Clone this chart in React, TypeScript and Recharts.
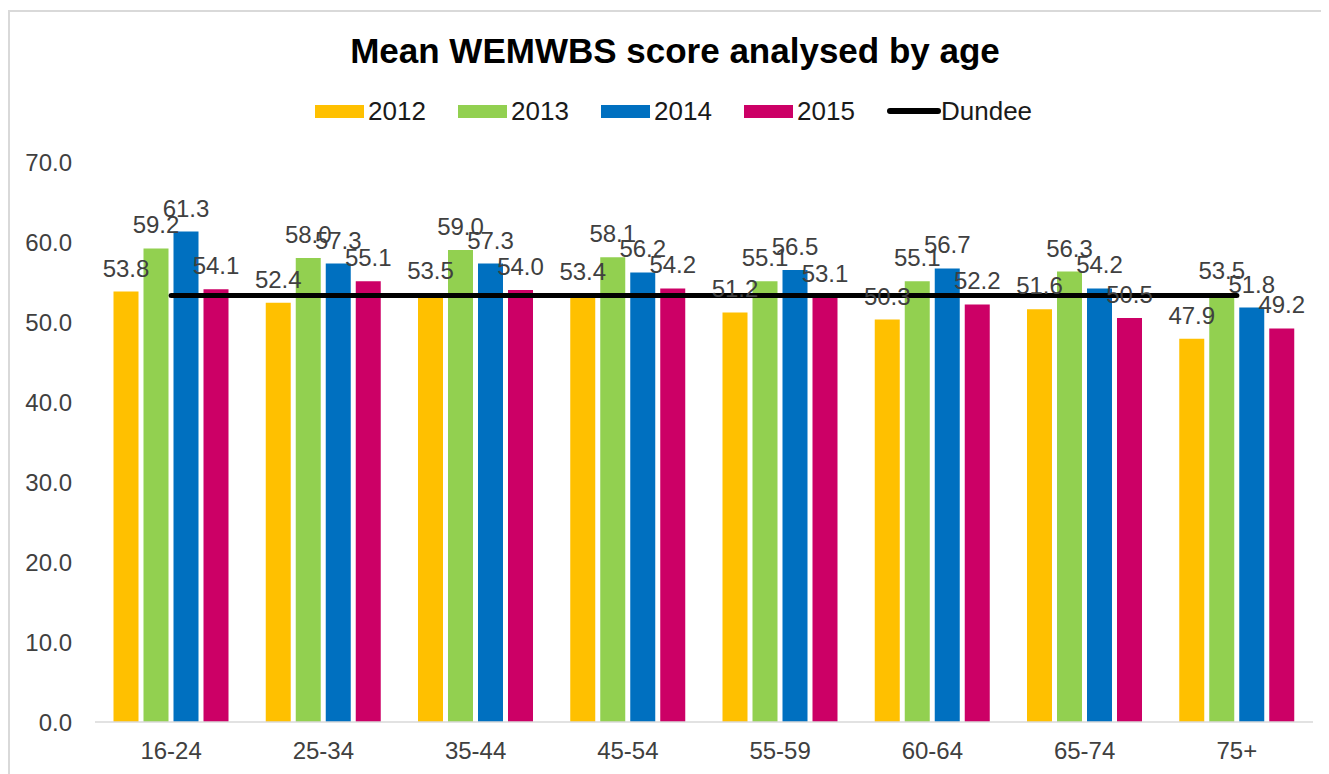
import React from 'react';
import { ComposedChart, Bar, Line, XAxis, YAxis, Legend, LabelList } from 'recharts';

const categories = ['16-24', '25-34', '35-44', '45-54', '55-59', '60-64', '65-74', '75+'];
const values2012 = [53.8, 52.4, 53.5, 53.4, 51.2, 50.3, 51.6, 47.9];
const values2013 = [59.2, 58.0, 59.0, 58.1, 55.1, 55.1, 56.3, 53.5];
const values2014 = [61.3, 57.3, 57.3, 56.2, 56.5, 56.7, 54.2, 51.8];
const values2015 = [54.1, 55.1, 54.0, 54.2, 53.1, 52.2, 50.5, 49.2];
const dundeeValues = [53.3, 53.3, 53.3, 53.3, 53.3, 53.3, 53.3, 53.3];
const yTicks = [0, 10, 20, 30, 40, 50, 60, 70];

const seriesNames = ['2012', '2013', '2014', '2015'];
const seriesColors = ['#FFC000', '#92D050', '#0070C0', '#CC0066'];

const data = categories.map((c, i) => ({
  category: c,
  y2012: values2012[i],
  y2013: values2013[i],
  y2014: values2014[i],
  y2015: values2015[i],
  dundee: dundeeValues[i],
}));

const FONT = '"Liberation Sans", Arial, sans-serif';
const labelStyle = { fontSize: 24, fill: '#404040', fontFamily: FONT };

const LegendContent = () => (
  <div style={{ display: 'flex', alignItems: 'center', height: 30, fontFamily: FONT, fontSize: 26, color: '#1a1a1a' }}>
    {seriesNames.map((n, i) => (
      <div key={n} style={{ display: 'flex', alignItems: 'center', width: 143 }}>
        <div style={{ width: 49, height: 13, background: seriesColors[i] }} />
        <span style={{ marginLeft: 4 }}>{n}</span>
      </div>
    ))}
    <div style={{ display: 'flex', alignItems: 'center' }}>
      <div style={{ width: 54, height: 6, background: '#000', borderRadius: 3 }} />
      <span style={{ marginLeft: 0 }}>Dundee</span>
    </div>
  </div>
);

export default function App() {
  return (
    <div style={{ position: 'relative', width: 1321, height: 766, overflow: 'hidden', fontFamily: FONT, background: '#fff' }}>
      <div
        style={{
          position: 'absolute',
          left: 0,
          top: 2,
          width: 1400,
          height: 800,
          borderTop: '2px solid #D9D9D9',
          borderLeft: '2px solid #D9D9D9',
        }}
      />
      <div
        style={{
          position: 'absolute',
          left: 0,
          top: 23,
          width: 1334,
          textAlign: 'center',
          fontSize: 35,
          lineHeight: '40px',
          fontWeight: 'bold',
          color: '#000',
        }}
      >
        Mean WEMWBS score analysed by age
      </div>
      <div style={{ position: 'absolute', left: 0, top: 0 }}>
        <ComposedChart
          width={1321}
          height={766}
          data={data}
          margin={{ top: 124, right: 16, bottom: 12, left: 0 }}
          barCategoryGap={18.5}
          barGap={5}
        >
          <Legend
            verticalAlign="top"
            align="left"
            content={<LegendContent />}
            wrapperStyle={{ top: 88, left: 307, width: 800, height: 30 }}
          />
          <XAxis
            dataKey="category"
            height={40}
            tickLine={false}
            tickSize={0}
            tickMargin={20}
            axisLine={{ stroke: '#D9D9D9', strokeWidth: 1.5 }}
            tick={{ fontSize: 24, fill: '#404040', fontFamily: FONT }}
          />
          <YAxis
            width={87}
            domain={[0, 70]}
            ticks={yTicks}
            tickFormatter={(v: number) => v.toFixed(1)}
            axisLine={false}
            tickLine={false}
            tickSize={0}
            tickMargin={23}
            tick={{ fontSize: 24, fill: '#404040', fontFamily: FONT }}
          />
          <Bar dataKey="y2012" name="2012" fill={seriesColors[0]} isAnimationActive={false}>
            <LabelList dataKey="y2012" position="top" offset={15} formatter={(v: number) => v.toFixed(1)} style={labelStyle} />
          </Bar>
          <Bar dataKey="y2013" name="2013" fill={seriesColors[1]} isAnimationActive={false}>
            <LabelList dataKey="y2013" position="top" offset={15} formatter={(v: number) => v.toFixed(1)} style={labelStyle} />
          </Bar>
          <Bar dataKey="y2014" name="2014" fill={seriesColors[2]} isAnimationActive={false}>
            <LabelList dataKey="y2014" position="top" offset={15} formatter={(v: number) => v.toFixed(1)} style={labelStyle} />
          </Bar>
          <Bar dataKey="y2015" name="2015" fill={seriesColors[3]} isAnimationActive={false}>
            <LabelList dataKey="y2015" position="top" offset={15} formatter={(v: number) => v.toFixed(1)} style={labelStyle} />
          </Bar>
          <Line
            dataKey="dundee"
            name="Dundee"
            stroke="#000"
            strokeWidth={5}
            strokeLinecap="round"
            dot={false}
            activeDot={false}
            isAnimationActive={false}
          />
        </ComposedChart>
      </div>
    </div>
  );
}
